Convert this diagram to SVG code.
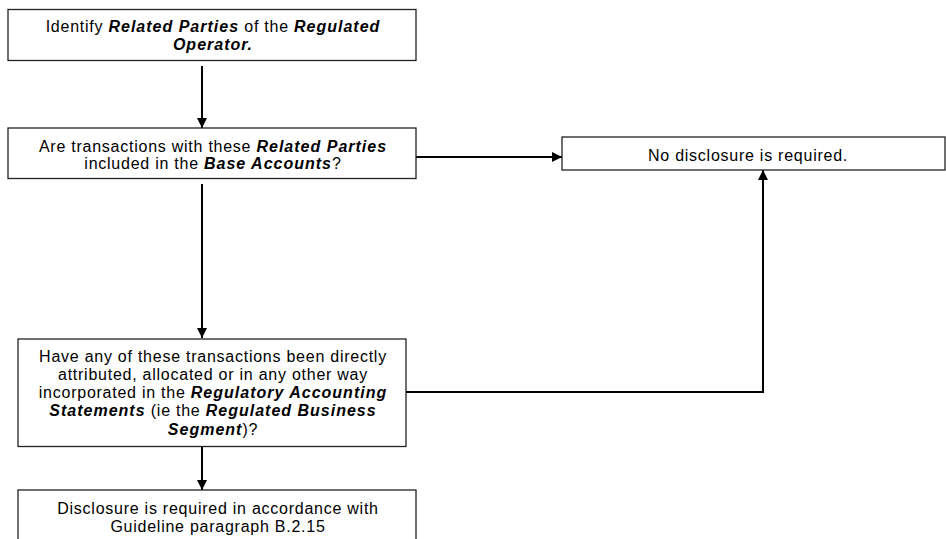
<svg xmlns="http://www.w3.org/2000/svg" width="946" height="539" viewBox="0 0 946 539">
<style>
.box{fill:#fff;stroke:#222;stroke-width:1.3}
.t{font-family:"Liberation Sans",Arial,sans-serif;font-size:16px;letter-spacing:0.75px;fill:#000;text-anchor:middle}
.b{font-weight:bold;font-style:italic;letter-spacing:1px}
.c{fill:none;stroke:#000;stroke-width:2}
</style>
<defs>
<marker id="ah" viewBox="0 0 10 10" refX="10" refY="5" markerWidth="10" markerHeight="10" markerUnits="userSpaceOnUse" orient="auto">
<path d="M0,0 L10,5 L0,10 Z" fill="#000"/>
</marker>
</defs>
<g id="connectors">
<line class="c" x1="202" y1="66" x2="202" y2="128" marker-end="url(#ah)"/>
<line class="c" x1="416" y1="157" x2="562" y2="157" marker-end="url(#ah)"/>
<line class="c" x1="202" y1="184" x2="202" y2="338" marker-end="url(#ah)"/>
<polyline class="c" points="406,392 763,392 763,170" marker-end="url(#ah)"/>
<line class="c" x1="202" y1="447" x2="202" y2="490" marker-end="url(#ah)"/>
</g>
<g id="n1">
<rect class="box" x="8" y="9.5" width="408" height="51"/>
<text class="t" x="213" y="32">Identify <tspan class="b">Related Parties</tspan> of the <tspan class="b">Regulated</tspan></text>
<text class="t" x="213" y="49.5"><tspan class="b">Operator.</tspan></text>
</g>
<g id="n2">
<rect class="box" x="8" y="128" width="408" height="50.5"/>
<text class="t" x="213" y="151.5">Are transactions with these <tspan class="b">Related Parties</tspan></text>
<text class="t" x="213" y="169">included in the <tspan class="b">Base Accounts</tspan>?</text>
</g>
<g id="n3">
<rect class="box" x="562" y="137" width="383" height="33"/>
<text class="t" x="748" y="160.5">No disclosure is required.</text>
</g>
<g id="n4">
<rect class="box" x="18" y="339" width="388" height="107.5"/>
<text class="t" x="213" y="361.5">Have any of these transactions been directly</text>
<text class="t" x="213" y="380">attributed, allocated or in any other way</text>
<text class="t" x="213" y="398">incorporated in the <tspan class="b">Regulatory Accounting</tspan></text>
<text class="t" x="213" y="416"><tspan class="b">Statements</tspan> (ie the <tspan class="b">Regulated Business</tspan></text>
<text class="t" x="213" y="434.5"><tspan class="b">Segment</tspan>)?</text>
</g>
<g id="n5">
<rect class="box" x="18" y="490" width="398" height="60"/>
<text class="t" x="218" y="514">Disclosure is required in accordance with</text>
<text class="t" x="218" y="532">Guideline paragraph B.2.15</text>
</g>
</svg>
